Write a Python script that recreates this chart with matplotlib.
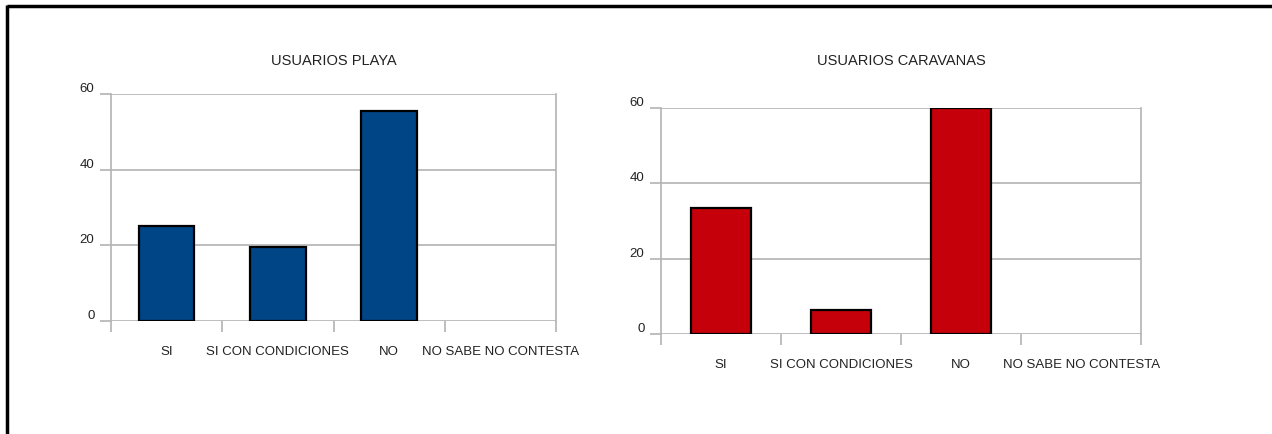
import matplotlib.pyplot as plt
from matplotlib.lines import Line2D

categories = ['SI', 'SI CON CONDICIONES', 'NO', 'NO SABE NO CONTESTA']
playa = [25, 19.5, 55.5, 0]
caravanas = [33.5, 6.5, 60, 0]
titles = ['USUARIOS PLAYA', 'USUARIOS CARAVANAS']
colors = ['#004586', '#c5000b']

plt.rcParams['font.family'] = ['Liberation Sans', 'DejaVu Sans']
grid_c = '#b3b3b3'

fig = plt.figure(figsize=(12.72, 4.35), dpi=100)
axes = [fig.add_axes([0.0873, 0.2598, 0.3498, 0.5218]),
        fig.add_axes([0.5197, 0.2299, 0.3774, 0.5195])]

for ax, vals, title, col in zip(axes, [playa, caravanas], titles, colors):
    x = range(len(categories))
    bars = ax.bar(x, vals, width=0.5, color=col, edgecolor='black', linewidth=1.6, zorder=3)
    for b, v in zip(bars, vals):
        if v == 0:
            b.set_visible(False)
    ax.set_xlim(-0.5, len(categories) - 0.5)
    ax.set_ylim(0, 60)
    ax.set_yticks([0, 20, 40, 60])
    ax.set_yticklabels(['0', '20', '40', '60'], fontsize=9.5, color='#222222')
    for lab in ax.get_yticklabels():
        lab.set_verticalalignment('bottom')
    ax.tick_params(axis='y', length=8, width=1.2, color=grid_c, pad=4)
    ax.grid(axis='y', color=grid_c, linewidth=1.2, zorder=0)
    # boundaries between categories as major ticks, labels on minor ticks
    ax.set_xticks([i - 0.5 for i in range(len(categories) + 1)])
    ax.set_xticklabels([])
    ax.set_xticks(list(x), minor=True)
    ax.set_xticklabels(categories, minor=True, fontsize=9.5, color='#222222')
    ax.tick_params(axis='x', which='major', length=8, width=1.2, color=grid_c)
    ax.tick_params(axis='x', which='minor', length=0, pad=17)
    for s in ['left', 'right']:
        ax.spines[s].set_color(grid_c)
        ax.spines[s].set_linewidth(1.2)
    for s in ['top', 'bottom']:
        ax.spines[s].set_visible(False)
    # titles sit on the same line for both charts
    bb = ax.get_position()
    fig.text((bb.x0 + bb.x1) / 2, 1 - 61 / 435, title, fontsize=10.5,
             ha='center', va='center', color='#222222')

# outer frame (top and left edges)
fig.add_artist(Line2D([7 / 1272, 1], [1 - 7 / 435, 1 - 7 / 435], color='black',
                      linewidth=2.5, solid_capstyle='butt'))
fig.add_artist(Line2D([7 / 1272, 7 / 1272], [0, 1 - 6 / 435], color='black',
                      linewidth=2.5, solid_capstyle='butt'))

fig.savefig('out.png', dpi=100)
